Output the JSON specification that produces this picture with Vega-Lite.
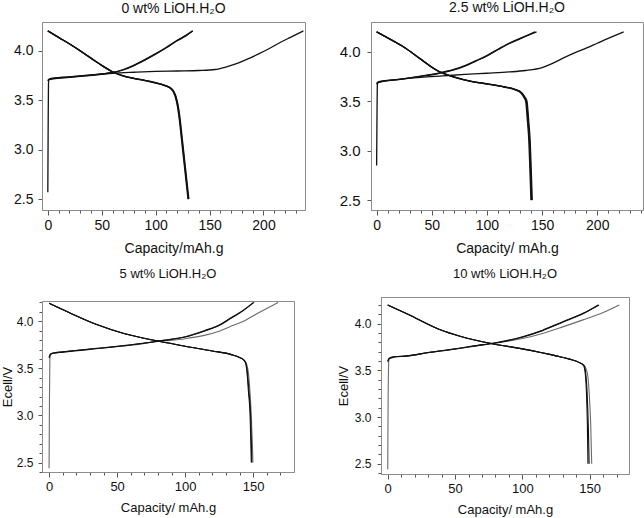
{
  "$schema": "https://vega.github.io/schema/vega-lite/v6.json",
  "padding": {"left": 0, "top": 0, "right": 0, "bottom": 0},
  "background": "white",
  "config": {
    "view": {"stroke": "#8c8c8c", "strokeWidth": 1},
    "font": "Liberation Sans",
    "axis": {"grid": false, "domainColor": "#8c8c8c", "tickColor": "#555", "labelColor": "#111", "titleColor": "#111", "titleFontWeight": "normal", "labelFont": "Liberation Sans", "titleFont": "Liberation Sans", "labelOverlap": false, "labelFlush": false},
    "title": {"fontWeight": "normal", "font": "Liberation Sans", "color": "#111", "frame": "group", "anchor": "middle"},
    "line": {"interpolate": "monotone"}
  },
  "data": {"values": [
    {"panel":"A","cycle":1,"step":"charge","cap":0,"v":2.57},{"panel":"A","cycle":1,"step":"charge","cap":0.3,"v":3.2},{"panel":"A","cycle":1,"step":"charge","cap":0.6,"v":3.66},{"panel":"A","cycle":1,"step":"charge","cap":1,"v":3.71},{"panel":"A","cycle":1,"step":"charge","cap":3,"v":3.72},{"panel":"A","cycle":1,"step":"charge","cap":20,"v":3.735},{"panel":"A","cycle":1,"step":"charge","cap":40,"v":3.755},{"panel":"A","cycle":1,"step":"charge","cap":60,"v":3.772},{"panel":"A","cycle":1,"step":"charge","cap":80,"v":3.782},{"panel":"A","cycle":1,"step":"charge","cap":100,"v":3.79},{"panel":"A","cycle":1,"step":"charge","cap":120,"v":3.795},{"panel":"A","cycle":1,"step":"charge","cap":140,"v":3.8},{"panel":"A","cycle":1,"step":"charge","cap":155,"v":3.81},{"panel":"A","cycle":1,"step":"charge","cap":165,"v":3.835},{"panel":"A","cycle":1,"step":"charge","cap":175,"v":3.87},{"panel":"A","cycle":1,"step":"charge","cap":185,"v":3.915},{"panel":"A","cycle":1,"step":"charge","cap":195,"v":3.965},{"panel":"A","cycle":1,"step":"charge","cap":205,"v":4.02},{"panel":"A","cycle":1,"step":"charge","cap":215,"v":4.08},{"panel":"A","cycle":1,"step":"charge","cap":225,"v":4.135},{"panel":"A","cycle":1,"step":"charge","cap":237,"v":4.2},
    {"panel":"A","cycle":2,"step":"charge","cap":0,"v":3.7},{"panel":"A","cycle":2,"step":"charge","cap":1,"v":3.71},{"panel":"A","cycle":2,"step":"charge","cap":5,"v":3.72},{"panel":"A","cycle":2,"step":"charge","cap":20,"v":3.735},{"panel":"A","cycle":2,"step":"charge","cap":35,"v":3.748},{"panel":"A","cycle":2,"step":"charge","cap":50,"v":3.765},{"panel":"A","cycle":2,"step":"charge","cap":60,"v":3.78},{"panel":"A","cycle":2,"step":"charge","cap":70,"v":3.81},{"panel":"A","cycle":2,"step":"charge","cap":80,"v":3.855},{"panel":"A","cycle":2,"step":"charge","cap":90,"v":3.91},{"panel":"A","cycle":2,"step":"charge","cap":100,"v":3.97},{"panel":"A","cycle":2,"step":"charge","cap":110,"v":4.035},{"panel":"A","cycle":2,"step":"charge","cap":120,"v":4.105},{"panel":"A","cycle":2,"step":"charge","cap":128,"v":4.155},{"panel":"A","cycle":2,"step":"charge","cap":134.5,"v":4.2},
    {"panel":"A","cycle":3,"step":"charge","cap":0,"v":3.69},{"panel":"A","cycle":3,"step":"charge","cap":1,"v":3.705},{"panel":"A","cycle":3,"step":"charge","cap":5,"v":3.715},{"panel":"A","cycle":3,"step":"charge","cap":20,"v":3.73},{"panel":"A","cycle":3,"step":"charge","cap":35,"v":3.745},{"panel":"A","cycle":3,"step":"charge","cap":50,"v":3.762},{"panel":"A","cycle":3,"step":"charge","cap":60,"v":3.778},{"panel":"A","cycle":3,"step":"charge","cap":70,"v":3.806},{"panel":"A","cycle":3,"step":"charge","cap":80,"v":3.85},{"panel":"A","cycle":3,"step":"charge","cap":90,"v":3.905},{"panel":"A","cycle":3,"step":"charge","cap":100,"v":3.965},{"panel":"A","cycle":3,"step":"charge","cap":110,"v":4.03},{"panel":"A","cycle":3,"step":"charge","cap":120,"v":4.1},{"panel":"A","cycle":3,"step":"charge","cap":128,"v":4.15},{"panel":"A","cycle":3,"step":"charge","cap":134,"v":4.2},
    {"panel":"A","cycle":1,"step":"discharge","cap":0,"v":4.2},{"panel":"A","cycle":1,"step":"discharge","cap":10,"v":4.135},{"panel":"A","cycle":1,"step":"discharge","cap":20,"v":4.07},{"panel":"A","cycle":1,"step":"discharge","cap":30,"v":4.0},{"panel":"A","cycle":1,"step":"discharge","cap":40,"v":3.925},{"panel":"A","cycle":1,"step":"discharge","cap":50,"v":3.852},{"panel":"A","cycle":1,"step":"discharge","cap":60,"v":3.787},{"panel":"A","cycle":1,"step":"discharge","cap":70,"v":3.745},{"panel":"A","cycle":1,"step":"discharge","cap":80,"v":3.72},{"panel":"A","cycle":1,"step":"discharge","cap":90,"v":3.7},{"panel":"A","cycle":1,"step":"discharge","cap":100,"v":3.675},{"panel":"A","cycle":1,"step":"discharge","cap":108,"v":3.65},{"panel":"A","cycle":1,"step":"discharge","cap":113,"v":3.625},{"panel":"A","cycle":1,"step":"discharge","cap":116,"v":3.59},{"panel":"A","cycle":1,"step":"discharge","cap":118,"v":3.54},{"panel":"A","cycle":1,"step":"discharge","cap":120,"v":3.45},{"panel":"A","cycle":1,"step":"discharge","cap":122,"v":3.3},{"panel":"A","cycle":1,"step":"discharge","cap":124,"v":3.1},{"panel":"A","cycle":1,"step":"discharge","cap":126,"v":2.9},{"panel":"A","cycle":1,"step":"discharge","cap":128,"v":2.7},{"panel":"A","cycle":1,"step":"discharge","cap":130,"v":2.5},
    {"panel":"A","cycle":2,"step":"discharge","cap":0,"v":4.2},{"panel":"A","cycle":2,"step":"discharge","cap":10,"v":4.135},{"panel":"A","cycle":2,"step":"discharge","cap":20,"v":4.07},{"panel":"A","cycle":2,"step":"discharge","cap":30,"v":4.0},{"panel":"A","cycle":2,"step":"discharge","cap":40,"v":3.925},{"panel":"A","cycle":2,"step":"discharge","cap":50,"v":3.852},{"panel":"A","cycle":2,"step":"discharge","cap":60,"v":3.787},{"panel":"A","cycle":2,"step":"discharge","cap":70,"v":3.745},{"panel":"A","cycle":2,"step":"discharge","cap":80,"v":3.72},{"panel":"A","cycle":2,"step":"discharge","cap":90,"v":3.7},{"panel":"A","cycle":2,"step":"discharge","cap":100,"v":3.677},{"panel":"A","cycle":2,"step":"discharge","cap":108.8,"v":3.65},{"panel":"A","cycle":2,"step":"discharge","cap":113.8,"v":3.625},{"panel":"A","cycle":2,"step":"discharge","cap":116.8,"v":3.59},{"panel":"A","cycle":2,"step":"discharge","cap":118.8,"v":3.54},{"panel":"A","cycle":2,"step":"discharge","cap":120.8,"v":3.45},{"panel":"A","cycle":2,"step":"discharge","cap":122.8,"v":3.3},{"panel":"A","cycle":2,"step":"discharge","cap":124.8,"v":3.1},{"panel":"A","cycle":2,"step":"discharge","cap":126.8,"v":2.9},{"panel":"A","cycle":2,"step":"discharge","cap":128.8,"v":2.7},{"panel":"A","cycle":2,"step":"discharge","cap":130.8,"v":2.5},
    {"panel":"A","cycle":3,"step":"discharge","cap":0,"v":4.2},{"panel":"A","cycle":3,"step":"discharge","cap":10,"v":4.133},{"panel":"A","cycle":3,"step":"discharge","cap":20,"v":4.068},{"panel":"A","cycle":3,"step":"discharge","cap":30,"v":3.998},{"panel":"A","cycle":3,"step":"discharge","cap":40,"v":3.923},{"panel":"A","cycle":3,"step":"discharge","cap":50,"v":3.85},{"panel":"A","cycle":3,"step":"discharge","cap":60,"v":3.785},{"panel":"A","cycle":3,"step":"discharge","cap":70,"v":3.743},{"panel":"A","cycle":3,"step":"discharge","cap":80,"v":3.718},{"panel":"A","cycle":3,"step":"discharge","cap":90,"v":3.698},{"panel":"A","cycle":3,"step":"discharge","cap":100,"v":3.673},{"panel":"A","cycle":3,"step":"discharge","cap":108.4,"v":3.648},{"panel":"A","cycle":3,"step":"discharge","cap":113.4,"v":3.622},{"panel":"A","cycle":3,"step":"discharge","cap":116.4,"v":3.59},{"panel":"A","cycle":3,"step":"discharge","cap":118.4,"v":3.54},{"panel":"A","cycle":3,"step":"discharge","cap":120.4,"v":3.45},{"panel":"A","cycle":3,"step":"discharge","cap":122.4,"v":3.3},{"panel":"A","cycle":3,"step":"discharge","cap":124.4,"v":3.1},{"panel":"A","cycle":3,"step":"discharge","cap":126.4,"v":2.9},{"panel":"A","cycle":3,"step":"discharge","cap":128.4,"v":2.7},{"panel":"A","cycle":3,"step":"discharge","cap":130.4,"v":2.5},

    {"panel":"B","cycle":1,"step":"charge","cap":0,"v":2.85},{"panel":"B","cycle":1,"step":"charge","cap":0.3,"v":3.3},{"panel":"B","cycle":1,"step":"charge","cap":0.6,"v":3.65},{"panel":"B","cycle":1,"step":"charge","cap":1,"v":3.69},{"panel":"B","cycle":1,"step":"charge","cap":3,"v":3.7},{"panel":"B","cycle":1,"step":"charge","cap":20,"v":3.72},{"panel":"B","cycle":1,"step":"charge","cap":40,"v":3.74},{"panel":"B","cycle":1,"step":"charge","cap":60,"v":3.755},{"panel":"B","cycle":1,"step":"charge","cap":80,"v":3.77},{"panel":"B","cycle":1,"step":"charge","cap":100,"v":3.782},{"panel":"B","cycle":1,"step":"charge","cap":120,"v":3.795},{"panel":"B","cycle":1,"step":"charge","cap":135,"v":3.81},{"panel":"B","cycle":1,"step":"charge","cap":150,"v":3.84},{"panel":"B","cycle":1,"step":"charge","cap":160,"v":3.885},{"panel":"B","cycle":1,"step":"charge","cap":170,"v":3.94},{"panel":"B","cycle":1,"step":"charge","cap":180,"v":3.99},{"panel":"B","cycle":1,"step":"charge","cap":190,"v":4.035},{"panel":"B","cycle":1,"step":"charge","cap":200,"v":4.085},{"panel":"B","cycle":1,"step":"charge","cap":210,"v":4.135},{"panel":"B","cycle":1,"step":"charge","cap":224,"v":4.2},
    {"panel":"B","cycle":2,"step":"charge","cap":0,"v":3.68},{"panel":"B","cycle":2,"step":"charge","cap":1,"v":3.69},{"panel":"B","cycle":2,"step":"charge","cap":5,"v":3.7},{"panel":"B","cycle":2,"step":"charge","cap":20,"v":3.72},{"panel":"B","cycle":2,"step":"charge","cap":40,"v":3.752},{"panel":"B","cycle":2,"step":"charge","cap":55,"v":3.78},{"panel":"B","cycle":2,"step":"charge","cap":70,"v":3.82},{"panel":"B","cycle":2,"step":"charge","cap":80,"v":3.86},{"panel":"B","cycle":2,"step":"charge","cap":90,"v":3.91},{"panel":"B","cycle":2,"step":"charge","cap":100,"v":3.96},{"panel":"B","cycle":2,"step":"charge","cap":110,"v":4.025},{"panel":"B","cycle":2,"step":"charge","cap":120,"v":4.085},{"panel":"B","cycle":2,"step":"charge","cap":130,"v":4.135},{"panel":"B","cycle":2,"step":"charge","cap":145,"v":4.2},
    {"panel":"B","cycle":3,"step":"charge","cap":0,"v":3.67},{"panel":"B","cycle":3,"step":"charge","cap":1,"v":3.685},{"panel":"B","cycle":3,"step":"charge","cap":5,"v":3.698},{"panel":"B","cycle":3,"step":"charge","cap":20,"v":3.718},{"panel":"B","cycle":3,"step":"charge","cap":40,"v":3.75},{"panel":"B","cycle":3,"step":"charge","cap":55,"v":3.777},{"panel":"B","cycle":3,"step":"charge","cap":70,"v":3.815},{"panel":"B","cycle":3,"step":"charge","cap":80,"v":3.855},{"panel":"B","cycle":3,"step":"charge","cap":90,"v":3.905},{"panel":"B","cycle":3,"step":"charge","cap":100,"v":3.958},{"panel":"B","cycle":3,"step":"charge","cap":110,"v":4.02},{"panel":"B","cycle":3,"step":"charge","cap":120,"v":4.08},{"panel":"B","cycle":3,"step":"charge","cap":130,"v":4.13},{"panel":"B","cycle":3,"step":"charge","cap":143.5,"v":4.2},
    {"panel":"B","cycle":1,"step":"discharge","cap":0,"v":4.2},{"panel":"B","cycle":1,"step":"discharge","cap":10,"v":4.14},{"panel":"B","cycle":1,"step":"discharge","cap":25,"v":4.045},{"panel":"B","cycle":1,"step":"discharge","cap":40,"v":3.925},{"panel":"B","cycle":1,"step":"discharge","cap":55,"v":3.81},{"panel":"B","cycle":1,"step":"discharge","cap":70,"v":3.745},{"panel":"B","cycle":1,"step":"discharge","cap":86,"v":3.7},{"panel":"B","cycle":1,"step":"discharge","cap":100,"v":3.675},{"panel":"B","cycle":1,"step":"discharge","cap":116,"v":3.643},{"panel":"B","cycle":1,"step":"discharge","cap":125,"v":3.62},{"panel":"B","cycle":1,"step":"discharge","cap":131,"v":3.586},{"panel":"B","cycle":1,"step":"discharge","cap":134,"v":3.54},{"panel":"B","cycle":1,"step":"discharge","cap":135.7,"v":3.5},{"panel":"B","cycle":1,"step":"discharge","cap":137.3,"v":3.3},{"panel":"B","cycle":1,"step":"discharge","cap":138.6,"v":3.1},{"panel":"B","cycle":1,"step":"discharge","cap":139.6,"v":2.8},{"panel":"B","cycle":1,"step":"discharge","cap":140.5,"v":2.5},
    {"panel":"B","cycle":2,"step":"discharge","cap":0,"v":4.2},{"panel":"B","cycle":2,"step":"discharge","cap":10,"v":4.14},{"panel":"B","cycle":2,"step":"discharge","cap":25,"v":4.045},{"panel":"B","cycle":2,"step":"discharge","cap":40,"v":3.925},{"panel":"B","cycle":2,"step":"discharge","cap":55,"v":3.81},{"panel":"B","cycle":2,"step":"discharge","cap":70,"v":3.745},{"panel":"B","cycle":2,"step":"discharge","cap":86,"v":3.7},{"panel":"B","cycle":2,"step":"discharge","cap":100,"v":3.675},{"panel":"B","cycle":2,"step":"discharge","cap":116,"v":3.645},{"panel":"B","cycle":2,"step":"discharge","cap":125.6,"v":3.62},{"panel":"B","cycle":2,"step":"discharge","cap":131.6,"v":3.586},{"panel":"B","cycle":2,"step":"discharge","cap":134.6,"v":3.54},{"panel":"B","cycle":2,"step":"discharge","cap":136.3,"v":3.5},{"panel":"B","cycle":2,"step":"discharge","cap":137.9,"v":3.3},{"panel":"B","cycle":2,"step":"discharge","cap":139.2,"v":3.1},{"panel":"B","cycle":2,"step":"discharge","cap":140.2,"v":2.8},{"panel":"B","cycle":2,"step":"discharge","cap":141.1,"v":2.5},
    {"panel":"B","cycle":3,"step":"discharge","cap":0,"v":4.2},{"panel":"B","cycle":3,"step":"discharge","cap":10,"v":4.138},{"panel":"B","cycle":3,"step":"discharge","cap":25,"v":4.043},{"panel":"B","cycle":3,"step":"discharge","cap":40,"v":3.923},{"panel":"B","cycle":3,"step":"discharge","cap":55,"v":3.808},{"panel":"B","cycle":3,"step":"discharge","cap":70,"v":3.743},{"panel":"B","cycle":3,"step":"discharge","cap":86,"v":3.698},{"panel":"B","cycle":3,"step":"discharge","cap":100,"v":3.673},{"panel":"B","cycle":3,"step":"discharge","cap":115.4,"v":3.643},{"panel":"B","cycle":3,"step":"discharge","cap":124.4,"v":3.62},{"panel":"B","cycle":3,"step":"discharge","cap":130.4,"v":3.586},{"panel":"B","cycle":3,"step":"discharge","cap":133.4,"v":3.54},{"panel":"B","cycle":3,"step":"discharge","cap":135.1,"v":3.5},{"panel":"B","cycle":3,"step":"discharge","cap":136.7,"v":3.3},{"panel":"B","cycle":3,"step":"discharge","cap":138,"v":3.1},{"panel":"B","cycle":3,"step":"discharge","cap":139,"v":2.8},{"panel":"B","cycle":3,"step":"discharge","cap":139.9,"v":2.5},

    {"panel":"C","cycle":1,"step":"charge","cap":0,"v":2.44},{"panel":"C","cycle":1,"step":"charge","cap":0.3,"v":3.2},{"panel":"C","cycle":1,"step":"charge","cap":0.6,"v":3.6},{"panel":"C","cycle":1,"step":"charge","cap":1,"v":3.65},{"panel":"C","cycle":1,"step":"charge","cap":3,"v":3.663},{"panel":"C","cycle":1,"step":"charge","cap":10,"v":3.675},{"panel":"C","cycle":1,"step":"charge","cap":30,"v":3.705},{"panel":"C","cycle":1,"step":"charge","cap":60,"v":3.745},{"panel":"C","cycle":1,"step":"charge","cap":80,"v":3.785},{"panel":"C","cycle":1,"step":"charge","cap":100,"v":3.815},{"panel":"C","cycle":1,"step":"charge","cap":114,"v":3.85},{"panel":"C","cycle":1,"step":"charge","cap":125,"v":3.895},{"panel":"C","cycle":1,"step":"charge","cap":134,"v":3.95},{"panel":"C","cycle":1,"step":"charge","cap":143,"v":4.0},{"panel":"C","cycle":1,"step":"charge","cap":151.5,"v":4.07},{"panel":"C","cycle":1,"step":"charge","cap":160,"v":4.135},{"panel":"C","cycle":1,"step":"charge","cap":168.3,"v":4.2},
    {"panel":"C","cycle":2,"step":"charge","cap":0,"v":3.62},{"panel":"C","cycle":2,"step":"charge","cap":1,"v":3.65},{"panel":"C","cycle":2,"step":"charge","cap":3,"v":3.663},{"panel":"C","cycle":2,"step":"charge","cap":10,"v":3.675},{"panel":"C","cycle":2,"step":"charge","cap":30,"v":3.705},{"panel":"C","cycle":2,"step":"charge","cap":60,"v":3.75},{"panel":"C","cycle":2,"step":"charge","cap":80,"v":3.79},{"panel":"C","cycle":2,"step":"charge","cap":100,"v":3.835},{"panel":"C","cycle":2,"step":"charge","cap":114,"v":3.9},{"panel":"C","cycle":2,"step":"charge","cap":125,"v":3.96},{"panel":"C","cycle":2,"step":"charge","cap":134,"v":4.04},{"panel":"C","cycle":2,"step":"charge","cap":142,"v":4.11},{"panel":"C","cycle":2,"step":"charge","cap":150.7,"v":4.2},
    {"panel":"C","cycle":3,"step":"charge","cap":0,"v":3.61},{"panel":"C","cycle":3,"step":"charge","cap":1,"v":3.645},{"panel":"C","cycle":3,"step":"charge","cap":3,"v":3.66},{"panel":"C","cycle":3,"step":"charge","cap":10,"v":3.672},{"panel":"C","cycle":3,"step":"charge","cap":30,"v":3.702},{"panel":"C","cycle":3,"step":"charge","cap":60,"v":3.748},{"panel":"C","cycle":3,"step":"charge","cap":80,"v":3.788},{"panel":"C","cycle":3,"step":"charge","cap":100,"v":3.832},{"panel":"C","cycle":3,"step":"charge","cap":114,"v":3.895},{"panel":"C","cycle":3,"step":"charge","cap":125,"v":3.955},{"panel":"C","cycle":3,"step":"charge","cap":134,"v":4.035},{"panel":"C","cycle":3,"step":"charge","cap":142,"v":4.105},{"panel":"C","cycle":3,"step":"charge","cap":150.2,"v":4.2},
    {"panel":"C","cycle":1,"step":"discharge","cap":0,"v":4.19},{"panel":"C","cycle":1,"step":"discharge","cap":15,"v":4.09},{"panel":"C","cycle":1,"step":"discharge","cap":35,"v":3.965},{"panel":"C","cycle":1,"step":"discharge","cap":55,"v":3.87},{"panel":"C","cycle":1,"step":"discharge","cap":80,"v":3.79},{"panel":"C","cycle":1,"step":"discharge","cap":100,"v":3.735},{"panel":"C","cycle":1,"step":"discharge","cap":120,"v":3.685},{"panel":"C","cycle":1,"step":"discharge","cap":134,"v":3.646},{"panel":"C","cycle":1,"step":"discharge","cap":140,"v":3.615},{"panel":"C","cycle":1,"step":"discharge","cap":143,"v":3.59},{"panel":"C","cycle":1,"step":"discharge","cap":145,"v":3.55},{"panel":"C","cycle":1,"step":"discharge","cap":146.5,"v":3.45},{"panel":"C","cycle":1,"step":"discharge","cap":147.6,"v":3.257},{"panel":"C","cycle":1,"step":"discharge","cap":148.7,"v":2.97},{"panel":"C","cycle":1,"step":"discharge","cap":149.4,"v":2.7},{"panel":"C","cycle":1,"step":"discharge","cap":149.8,"v":2.5},
    {"panel":"C","cycle":2,"step":"discharge","cap":0,"v":4.19},{"panel":"C","cycle":2,"step":"discharge","cap":15,"v":4.09},{"panel":"C","cycle":2,"step":"discharge","cap":35,"v":3.965},{"panel":"C","cycle":2,"step":"discharge","cap":55,"v":3.87},{"panel":"C","cycle":2,"step":"discharge","cap":80,"v":3.79},{"panel":"C","cycle":2,"step":"discharge","cap":100,"v":3.735},{"panel":"C","cycle":2,"step":"discharge","cap":120,"v":3.685},{"panel":"C","cycle":2,"step":"discharge","cap":134,"v":3.646},{"panel":"C","cycle":2,"step":"discharge","cap":140,"v":3.615},{"panel":"C","cycle":2,"step":"discharge","cap":143,"v":3.59},{"panel":"C","cycle":2,"step":"discharge","cap":144.5,"v":3.55},{"panel":"C","cycle":2,"step":"discharge","cap":145.5,"v":3.45},{"panel":"C","cycle":2,"step":"discharge","cap":146.5,"v":3.257},{"panel":"C","cycle":2,"step":"discharge","cap":147.8,"v":2.97},{"panel":"C","cycle":2,"step":"discharge","cap":148.3,"v":2.7},{"panel":"C","cycle":2,"step":"discharge","cap":148.6,"v":2.5},
    {"panel":"C","cycle":3,"step":"discharge","cap":0,"v":4.19},{"panel":"C","cycle":3,"step":"discharge","cap":15,"v":4.09},{"panel":"C","cycle":3,"step":"discharge","cap":35,"v":3.965},{"panel":"C","cycle":3,"step":"discharge","cap":55,"v":3.87},{"panel":"C","cycle":3,"step":"discharge","cap":80,"v":3.79},{"panel":"C","cycle":3,"step":"discharge","cap":100,"v":3.735},{"panel":"C","cycle":3,"step":"discharge","cap":120,"v":3.685},{"panel":"C","cycle":3,"step":"discharge","cap":134,"v":3.646},{"panel":"C","cycle":3,"step":"discharge","cap":140,"v":3.615},{"panel":"C","cycle":3,"step":"discharge","cap":143,"v":3.59},{"panel":"C","cycle":3,"step":"discharge","cap":144.8,"v":3.55},{"panel":"C","cycle":3,"step":"discharge","cap":145.8,"v":3.45},{"panel":"C","cycle":3,"step":"discharge","cap":146.9,"v":3.257},{"panel":"C","cycle":3,"step":"discharge","cap":148.2,"v":2.97},{"panel":"C","cycle":3,"step":"discharge","cap":148.7,"v":2.7},{"panel":"C","cycle":3,"step":"discharge","cap":149,"v":2.5},

    {"panel":"D","cycle":1,"step":"charge","cap":0,"v":2.44},{"panel":"D","cycle":1,"step":"charge","cap":0.3,"v":3.2},{"panel":"D","cycle":1,"step":"charge","cap":0.8,"v":3.6},{"panel":"D","cycle":1,"step":"charge","cap":1.5,"v":3.63},{"panel":"D","cycle":1,"step":"charge","cap":5,"v":3.645},{"panel":"D","cycle":1,"step":"charge","cap":14,"v":3.655},{"panel":"D","cycle":1,"step":"charge","cap":30,"v":3.69},{"panel":"D","cycle":1,"step":"charge","cap":50,"v":3.726},{"panel":"D","cycle":1,"step":"charge","cap":70,"v":3.77},{"panel":"D","cycle":1,"step":"charge","cap":80,"v":3.79},{"panel":"D","cycle":1,"step":"charge","cap":100,"v":3.84},{"panel":"D","cycle":1,"step":"charge","cap":115,"v":3.895},{"panel":"D","cycle":1,"step":"charge","cap":130,"v":3.965},{"panel":"D","cycle":1,"step":"charge","cap":145,"v":4.04},{"panel":"D","cycle":1,"step":"charge","cap":160,"v":4.12},{"panel":"D","cycle":1,"step":"charge","cap":172,"v":4.2},
    {"panel":"D","cycle":2,"step":"charge","cap":0,"v":3.6},{"panel":"D","cycle":2,"step":"charge","cap":1,"v":3.63},{"panel":"D","cycle":2,"step":"charge","cap":5,"v":3.645},{"panel":"D","cycle":2,"step":"charge","cap":14,"v":3.655},{"panel":"D","cycle":2,"step":"charge","cap":30,"v":3.69},{"panel":"D","cycle":2,"step":"charge","cap":50,"v":3.73},{"panel":"D","cycle":2,"step":"charge","cap":70,"v":3.775},{"panel":"D","cycle":2,"step":"charge","cap":80,"v":3.795},{"panel":"D","cycle":2,"step":"charge","cap":100,"v":3.86},{"panel":"D","cycle":2,"step":"charge","cap":115,"v":3.93},{"panel":"D","cycle":2,"step":"charge","cap":130,"v":4.02},{"panel":"D","cycle":2,"step":"charge","cap":145,"v":4.11},{"panel":"D","cycle":2,"step":"charge","cap":157,"v":4.2},
    {"panel":"D","cycle":3,"step":"charge","cap":0,"v":3.59},{"panel":"D","cycle":3,"step":"charge","cap":1,"v":3.625},{"panel":"D","cycle":3,"step":"charge","cap":5,"v":3.642},{"panel":"D","cycle":3,"step":"charge","cap":14,"v":3.652},{"panel":"D","cycle":3,"step":"charge","cap":30,"v":3.688},{"panel":"D","cycle":3,"step":"charge","cap":50,"v":3.728},{"panel":"D","cycle":3,"step":"charge","cap":70,"v":3.772},{"panel":"D","cycle":3,"step":"charge","cap":80,"v":3.792},{"panel":"D","cycle":3,"step":"charge","cap":100,"v":3.855},{"panel":"D","cycle":3,"step":"charge","cap":115,"v":3.925},{"panel":"D","cycle":3,"step":"charge","cap":130,"v":4.015},{"panel":"D","cycle":3,"step":"charge","cap":145,"v":4.105},{"panel":"D","cycle":3,"step":"charge","cap":156.3,"v":4.2},
    {"panel":"D","cycle":1,"step":"discharge","cap":0,"v":4.2},{"panel":"D","cycle":1,"step":"discharge","cap":15,"v":4.1},{"panel":"D","cycle":1,"step":"discharge","cap":38,"v":3.94},{"panel":"D","cycle":1,"step":"discharge","cap":55,"v":3.86},{"panel":"D","cycle":1,"step":"discharge","cap":76,"v":3.79},{"panel":"D","cycle":1,"step":"discharge","cap":100,"v":3.73},{"panel":"D","cycle":1,"step":"discharge","cap":125,"v":3.655},{"panel":"D","cycle":1,"step":"discharge","cap":135,"v":3.62},{"panel":"D","cycle":1,"step":"discharge","cap":142,"v":3.585},{"panel":"D","cycle":1,"step":"discharge","cap":146,"v":3.55},{"panel":"D","cycle":1,"step":"discharge","cap":148.5,"v":3.45},{"panel":"D","cycle":1,"step":"discharge","cap":149.6,"v":3.26},{"panel":"D","cycle":1,"step":"discharge","cap":150.8,"v":2.9},{"panel":"D","cycle":1,"step":"discharge","cap":151.5,"v":2.5},
    {"panel":"D","cycle":2,"step":"discharge","cap":0,"v":4.2},{"panel":"D","cycle":2,"step":"discharge","cap":15,"v":4.1},{"panel":"D","cycle":2,"step":"discharge","cap":38,"v":3.94},{"panel":"D","cycle":2,"step":"discharge","cap":55,"v":3.86},{"panel":"D","cycle":2,"step":"discharge","cap":76,"v":3.79},{"panel":"D","cycle":2,"step":"discharge","cap":100,"v":3.73},{"panel":"D","cycle":2,"step":"discharge","cap":125,"v":3.655},{"panel":"D","cycle":2,"step":"discharge","cap":135,"v":3.62},{"panel":"D","cycle":2,"step":"discharge","cap":142,"v":3.585},{"panel":"D","cycle":2,"step":"discharge","cap":145.5,"v":3.55},{"panel":"D","cycle":2,"step":"discharge","cap":146.8,"v":3.45},{"panel":"D","cycle":2,"step":"discharge","cap":147.6,"v":3.26},{"panel":"D","cycle":2,"step":"discharge","cap":148.3,"v":2.9},{"panel":"D","cycle":2,"step":"discharge","cap":148.7,"v":2.5},
    {"panel":"D","cycle":3,"step":"discharge","cap":0,"v":4.2},{"panel":"D","cycle":3,"step":"discharge","cap":15,"v":4.1},{"panel":"D","cycle":3,"step":"discharge","cap":38,"v":3.94},{"panel":"D","cycle":3,"step":"discharge","cap":55,"v":3.86},{"panel":"D","cycle":3,"step":"discharge","cap":76,"v":3.79},{"panel":"D","cycle":3,"step":"discharge","cap":100,"v":3.73},{"panel":"D","cycle":3,"step":"discharge","cap":125,"v":3.655},{"panel":"D","cycle":3,"step":"discharge","cap":135,"v":3.62},{"panel":"D","cycle":3,"step":"discharge","cap":142,"v":3.585},{"panel":"D","cycle":3,"step":"discharge","cap":145.8,"v":3.55},{"panel":"D","cycle":3,"step":"discharge","cap":147.2,"v":3.45},{"panel":"D","cycle":3,"step":"discharge","cap":148.1,"v":3.26},{"panel":"D","cycle":3,"step":"discharge","cap":149,"v":2.9},{"panel":"D","cycle":3,"step":"discharge","cap":149.6,"v":2.5}
  ]},
  "columns": 2,
  "align": "none",
  "spacing": {"row": 11, "column": 30},
  "concat": [
    {
      "width": 263, "height": 188,
      "title": {"text": "0 wt% LiOH.H₂O", "fontSize": 14, "offset": 6},
      "transform": [{"filter": "datum.panel === 'A'"}],
      "mark": {"type": "line", "color": "#111", "strokeWidth": 1.3, "clip": true},
      "encoding": {
        "x": {"field": "cap", "type": "quantitative", "scale": {"domain": [-5.4, 238.5], "nice": false, "zero": false},
          "axis": {"title": "Capacity/mAh.g", "values": [0,10,20,30,40,50,60,70,80,90,100,110,120,130,140,150,160,170,180,190,200,210,220,230], "labelExpr": "datum.value % 50 === 0 ? datum.label : ''", "tickSize": {"condition": {"test": "datum.value % 50 === 0", "value": 5}, "value": 3}, "labelPadding": 3, "titlePadding": 9, "labelFontSize": 14, "titleFontSize": 14}},
        "y": {"field": "v", "type": "quantitative", "scale": {"domain": [2.39, 4.29], "nice": false, "zero": false},
          "axis": {"title": null, "values": [2.5, 3.0, 3.5, 4.0], "format": ".1f", "tickSize": 4, "labelPadding": 5, "minExtent": 34, "labelFontSize": 14}},
        "detail": [{"field": "cycle"}, {"field": "step"}]
      }
    },
    {
      "width": 272, "height": 188,
      "title": {"text": "2.5 wt% LiOH.H₂O", "fontSize": 14, "offset": 7},
      "transform": [{"filter": "datum.panel === 'B'"}],
      "mark": {"type": "line", "color": "#111", "strokeWidth": 1.3, "clip": true},
      "encoding": {
        "x": {"field": "cap", "type": "quantitative", "scale": {"domain": [-5.1, 241.5], "nice": false, "zero": false},
          "axis": {"title": "Capacity/ mAh.g", "values": [0,10,20,30,40,50,60,70,80,90,100,110,120,130,140,150,160,170,180,190,200,210,220,230,240], "labelExpr": "datum.value % 50 === 0 ? datum.label : ''", "tickSize": {"condition": {"test": "datum.value % 50 === 0", "value": 5}, "value": 3}, "labelPadding": 3, "titlePadding": 9, "labelFontSize": 14, "titleFontSize": 14}},
        "y": {"field": "v", "type": "quantitative", "scale": {"domain": [2.4, 4.3], "nice": false, "zero": false},
          "axis": {"title": null, "values": [2.5, 3.0, 3.5, 4.0], "format": ".1f", "tickSize": 4, "labelPadding": 7, "minExtent": 34, "labelFontSize": 15}},
        "detail": [{"field": "cycle"}, {"field": "step"}]
      }
    },
    {
      "width": 252, "height": 171,
      "title": {"text": "5 wt% LiOH.H₂O", "fontSize": 13, "offset": 15},
      "transform": [{"filter": "datum.panel === 'C'"}],
      "encoding": {
        "x": {"field": "cap", "type": "quantitative", "scale": {"domain": [-5.2, 180], "nice": false, "zero": false},
          "axis": {"title": "Capacity/ mAh.g", "values": [0,10,20,30,40,50,60,70,80,90,100,110,120,130,140,150,160,170], "labelExpr": "datum.value % 50 === 0 ? datum.label : ''", "tickSize": {"condition": {"test": "datum.value % 50 === 0", "value": 5}, "value": 3}, "labelPadding": 3, "titlePadding": 8, "labelFontSize": 13, "titleFontSize": 13}},
        "y": {"field": "v", "type": "quantitative", "scale": {"domain": [2.4, 4.215], "nice": false, "zero": false},
          "axis": {"title": "Ecell/V", "values": [2.4,2.5,2.6,2.7,2.8,2.9,3.0,3.1,3.2,3.3,3.4,3.5,3.6,3.7,3.8,3.9,4.0,4.1,4.2], "labelExpr": "abs(datum.value*2 - round(datum.value*2)) < 0.001 ? format(datum.value, '.1f') : ''", "tickSize": {"condition": {"test": "abs(datum.value*2 - round(datum.value*2)) < 0.001", "value": 4}, "value": 3}, "labelPadding": 5, "titlePadding": 2, "labelFontSize": 12, "titleFontSize": 13}},
        "detail": [{"field": "cycle"}, {"field": "step"}]
      },
      "layer": [
        {"transform": [{"filter": "datum.cycle === 1"}], "mark": {"type": "line", "color": "#6a6a6a", "strokeWidth": 1.1, "clip": true}},
        {"transform": [{"filter": "datum.cycle !== 1"}], "mark": {"type": "line", "color": "#111", "strokeWidth": 1.1, "clip": true}}
      ]
    },
    {
      "width": 248, "height": 177,
      "title": {"text": "10 wt% LiOH.H₂O", "fontSize": 13, "offset": 16},
      "transform": [{"filter": "datum.panel === 'D'"}],
      "encoding": {
        "x": {"field": "cap", "type": "quantitative", "scale": {"domain": [-5, 179.2], "nice": false, "zero": false},
          "axis": {"title": "Capacity/ mAh.g", "values": [0,10,20,30,40,50,60,70,80,90,100,110,120,130,140,150,160,170], "labelExpr": "datum.value % 50 === 0 ? datum.label : ''", "tickSize": {"condition": {"test": "datum.value % 50 === 0", "value": 5}, "value": 3}, "labelPadding": 3, "titlePadding": 8, "labelFontSize": 13, "titleFontSize": 13}},
        "y": {"field": "v", "type": "quantitative", "scale": {"domain": [2.39, 4.285], "nice": false, "zero": false},
          "axis": {"title": "Ecell/V", "values": [2.4,2.5,2.6,2.7,2.8,2.9,3.0,3.1,3.2,3.3,3.4,3.5,3.6,3.7,3.8,3.9,4.0,4.1,4.2], "labelExpr": "abs(datum.value*2 - round(datum.value*2)) < 0.001 ? format(datum.value, '.1f') : ''", "tickSize": {"condition": {"test": "abs(datum.value*2 - round(datum.value*2)) < 0.001", "value": 4}, "value": 3}, "labelPadding": 6, "titlePadding": 4, "labelFontSize": 12, "titleFontSize": 13}},
        "detail": [{"field": "cycle"}, {"field": "step"}]
      },
      "layer": [
        {"transform": [{"filter": "datum.cycle === 1"}], "mark": {"type": "line", "color": "#6a6a6a", "strokeWidth": 1.1, "clip": true}},
        {"transform": [{"filter": "datum.cycle !== 1"}], "mark": {"type": "line", "color": "#111", "strokeWidth": 1.1, "clip": true}}
      ]
    }
  ]
}
